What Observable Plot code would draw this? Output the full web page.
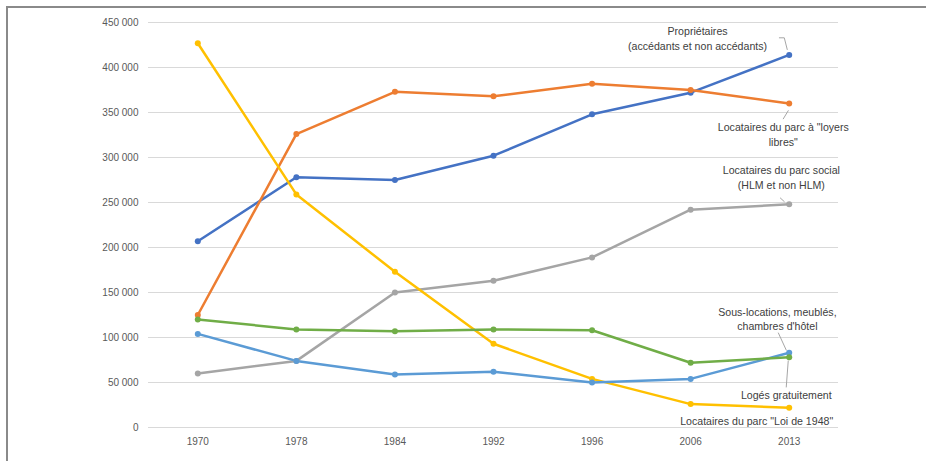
<!DOCTYPE html>
<html>
<head>
<meta charset="utf-8">
<script src="https://cdn.jsdelivr.net/npm/d3@7"></script>
<script src="https://cdn.jsdelivr.net/npm/@observablehq/plot@0.6"></script>
<style>
  html, body { margin: 0; padding: 0; background: #fff; }
  #wrap { position: relative; width: 926px; height: 461px; overflow: hidden; }
  #frame { position: absolute; left: 6px; top: 6px; width: 940px; height: 470px;
           border-left: 2px solid #8a8a8a; border-top: 2px solid #8a8a8a; pointer-events: none; }
  #chart { position: absolute; left: 0; top: 0; }
</style>
</head>
<body>
<div id="wrap"><div id="chart"></div><div id="frame"></div></div>
<script>
const years = ["1970", "1978", "1984", "1992", "1996", "2006", "2013"];
const yTicks = [0, 50000, 100000, 150000, 200000, 250000, 300000, 350000, 400000, 450000];

const seriesNames = [
  "Propriétaires",
  "Locataires du parc à \"loyers libres\"",
  "Locataires du parc social",
  "Locataires du parc \"Loi de 1948\"",
  "Sous-locations, meublés, chambres d'hôtel",
  "Logés gratuitement"
];
const seriesColors = ["#4472C4", "#ED7D31", "#A5A5A5", "#FFC000", "#5B9BD5", "#70AD47"];

const proprietaires     = [207000, 278000, 275000, 302000, 348000, 372000, 414000];
const loyersLibres      = [125000, 326000, 373000, 368000, 382000, 375000, 360000];
const parcSocial        = [60000, 74000, 150000, 163000, 189000, 242000, 248000];
const loi1948           = [427000, 259000, 173000, 93000, 54000, 26000, 22000];
const sousLocations     = [104000, 74000, 59000, 62000, 50000, 54000, 83000];
const logesGratuitement = [120000, 109000, 107000, 109000, 108000, 72000, 78000];

const seriesValues = [proprietaires, loyersLibres, parcSocial, loi1948, sousLocations, logesGratuitement];

// Label texts and their anchors (x = year index, y = value)
const labelTexts = [
  "Propriétaires\n(accédants et non accédants)",
  "Locataires du parc à \"loyers\nlibres\"",
  "Locataires du parc social\n(HLM et non HLM)",
  "Sous-locations, meublés,\nchambres d'hôtel",
  "Logés gratuitement",
  "Locataires du parc \"Loi de 1948\""
];
const labelX = [5.07, 5.94, 5.92, 5.88, 5.97, 5.67];
const labelY = [432800, 326700, 278300, 121400, 37400, 7800];

// Leader lines (x = year index, y = value)
const leaderId = [0, 0, 0, 1, 1, 2, 2, 3, 3, 4, 4];
const leaderX  = [5.90, 5.95, 5.98, 5.99, 5.94, 5.91, 5.95, 5.89, 5.97, 5.99, 5.97];
const leaderY  = [433000, 433000, 420000, 352000, 343000, 255000, 251000, 105000, 86000, 74000, 45000];

const rows = seriesNames.flatMap((name, s) => seriesValues[s].map((v, i) => ({serie: name, i, value: v})));
const labels = labelTexts.map((t, k) => ({text: t, x: labelX[k], y: labelY[k]}));
const leaders = leaderId.map((id, k) => ({id, x: leaderX[k], y: leaderY[k]}));

const fmt = d => d3.format(",")(d).replace(/,/g, " ");

const chart = Plot.plot({
  width: 926,
  height: 461,
  marginLeft: 148,
  marginRight: 88,
  marginTop: 22,
  marginBottom: 34,
  style: {fontFamily: "'Liberation Sans', Arial, sans-serif", fontSize: "10px", background: "transparent", color: "#595959"},
  x: {domain: [-0.5, 6.5], ticks: d3.range(years.length), tickFormat: i => years[i], tickSize: 0, tickPadding: 10, label: null},
  y: {domain: [0, 450000], ticks: yTicks, tickFormat: fmt, tickSize: 0, tickPadding: 10, label: null},
  color: {domain: seriesNames, range: seriesColors},
  marks: [
    Plot.ruleY(yTicks, {stroke: "#d9d9d9", strokeWidth: 1, strokeOpacity: 1}),
    Plot.line(rows, {x: "i", y: "value", z: "serie", stroke: "serie", strokeWidth: 2.5}),
    Plot.dot(rows, {x: "i", y: "value", fill: "serie", r: 3}),
    Plot.line(leaders, {x: "x", y: "y", z: "id", stroke: "#a6a6a6", strokeWidth: 1}),
    Plot.text(labels, {x: "x", y: "y", text: "text", fill: "#404040", lineAnchor: "middle", lineHeight: 1.4, fontSize: 10.6})
  ]
});
document.getElementById("chart").appendChild(chart);
</script>
</body>
</html>
